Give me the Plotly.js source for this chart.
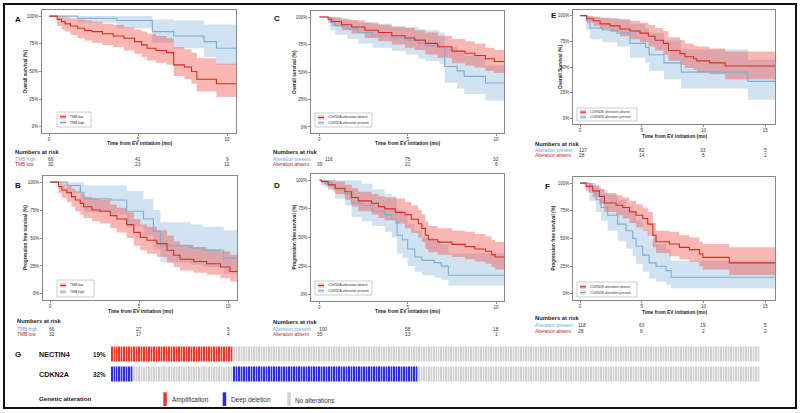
<!DOCTYPE html>
<html><head><meta charset="utf-8">
<script src="https://cdn.plot.ly/plotly-3.0.1.min.js"></script>
<style>html,body{margin:0;padding:0;background:#fff}#chart{width:800px;height:413px}</style>
</head><body><div id="chart"></div>
<script>
// ---------------- DATA ----------------
// Panel A: overall survival by TMB
const aLowTime  = [0,0.45,0.7,0.9,1.2,1.6,2.0,2.4,3.0,3.6,4.2,4.8,5.2,5.5,6.0,6.6,7.0,7.6,8.0,8.3,9.4,10.5];
const aLowSurv  = [1,0.97,0.95,0.93,0.91,0.89,0.87,0.86,0.84,0.82,0.80,0.77,0.74,0.71,0.69,0.67,0.56,0.54,0.50,0.43,0.39,0.39];
const aLowUpper = [1,1,1,0.99,0.98,0.97,0.96,0.95,0.93,0.92,0.90,0.88,0.86,0.84,0.82,0.80,0.72,0.70,0.67,0.62,0.57,0.57];
const aLowLower = [1,0.91,0.88,0.86,0.83,0.80,0.78,0.76,0.74,0.72,0.69,0.66,0.63,0.60,0.58,0.56,0.46,0.43,0.39,0.32,0.27,0.27];
const aHighTime  = [0,1.6,3.8,5.8,7.0,8.7,9.4,10.5];
const aHighSurv  = [1,0.98,0.96,0.86,0.82,0.77,0.71,0.71];
const aHighUpper = [1,1,1,0.97,0.96,0.925,0.925,0.925];
const aHighLower = [1,0.94,0.89,0.76,0.71,0.63,0.56,0.56];
const aRiskHigh = [66,41,9];
const aRiskLow  = [30,23,12];

// Panel B: progression free survival by TMB
const bLowTime  = [0,0.47,0.66,0.94,1.2,1.41,1.69,1.88,2.35,2.81,3.38,3.75,4.3,4.7,5.07,5.44,6.0,6.57,6.94,7.3,8.07,8.8,9.57,10.1,10.5];
const bLowSurv  = [1,0.96,0.93,0.906,0.87,0.84,0.81,0.78,0.75,0.74,0.70,0.67,0.62,0.55,0.506,0.48,0.45,0.39,0.345,0.31,0.29,0.27,0.24,0.20,0.20];
const bLowUpper = [1,1,0.99,0.97,0.94,0.92,0.90,0.87,0.85,0.84,0.80,0.77,0.73,0.67,0.62,0.60,0.57,0.52,0.47,0.44,0.42,0.40,0.38,0.35,0.35];
const bLowLower = [1,0.90,0.86,0.82,0.78,0.74,0.71,0.68,0.65,0.63,0.59,0.55,0.50,0.43,0.39,0.36,0.33,0.28,0.24,0.21,0.19,0.17,0.14,0.11,0.11];
const bHighTime  = [0,0.95,1.7,1.9,3.4,4.3,5.25,5.8,6.2,7.9,8.6,9.75,10.5];
const bHighSurv  = [1,0.97,0.91,0.85,0.84,0.74,0.67,0.56,0.43,0.41,0.39,0.32,0.32];
const bHighUpper = [1,1,1,0.97,0.97,0.92,0.85,0.75,0.64,0.62,0.60,0.57,0.57];
const bHighLower = [1,0.90,0.80,0.73,0.71,0.60,0.52,0.40,0.28,0.26,0.24,0.18,0.18];
const bRiskHigh = [66,27,5];
const bRiskLow  = [32,17,4];

// Panel C: overall survival by CDKN2A
const cAbsTime  = [0,0.5,0.7,1.26,1.83,2.58,3.34,4.1,4.85,5.4,6.0,6.7,7.5,8.25,8.8,9.4,9.9,10.45];
const cAbsSurv  = [1,0.98,0.96,0.93,0.91,0.88,0.86,0.83,0.81,0.79,0.76,0.73,0.69,0.67,0.65,0.62,0.595,0.595];
const cAbsUpper = [1,1,1,0.98,0.97,0.95,0.93,0.91,0.90,0.88,0.86,0.83,0.80,0.78,0.76,0.72,0.70,0.70];
const cAbsLower = [1,0.95,0.92,0.88,0.85,0.81,0.78,0.75,0.72,0.70,0.66,0.63,0.58,0.56,0.54,0.51,0.49,0.49];
const cPresTime  = [0,0.6,0.9,1.6,2.2,3.0,4.1,4.9,5.6,6.0,6.8,7.1,7.8,8.2,9.4,10.45];
const cPresSurv  = [1,0.95,0.92,0.89,0.86,0.83,0.81,0.79,0.76,0.74,0.72,0.55,0.51,0.46,0.40,0.40];
const cPresUpper = [1,1,0.99,0.97,0.95,0.94,0.92,0.91,0.89,0.88,0.86,0.73,0.69,0.65,0.56,0.56];
const cPresLower = [1,0.88,0.84,0.80,0.76,0.72,0.69,0.66,0.62,0.60,0.57,0.40,0.35,0.30,0.24,0.24];
const cRiskPres = [116,75,32];
const cRiskAbs  = [39,21,6];

// Panel D: progression free survival by CDKN2A
const dAbsTime  = [0,0.13,0.5,0.9,1.45,1.83,2.2,2.96,3.34,3.7,4.3,4.85,5.2,5.6,5.8,6.0,6.17,6.7,7.5,8.25,8.8,9.4,9.75,9.95,10.45];
const dAbsSurv  = [1,0.99,0.96,0.93,0.90,0.85,0.82,0.80,0.77,0.75,0.72,0.70,0.66,0.62,0.58,0.52,0.48,0.46,0.44,0.42,0.40,0.38,0.35,0.33,0.33];
const dAbsUpper = [1,1,1,0.99,0.96,0.93,0.90,0.88,0.86,0.85,0.84,0.81,0.78,0.74,0.70,0.64,0.60,0.58,0.56,0.55,0.53,0.51,0.48,0.46,0.46];
const dAbsLower = [1,0.96,0.92,0.88,0.83,0.77,0.73,0.70,0.67,0.65,0.62,0.58,0.54,0.50,0.46,0.40,0.37,0.35,0.33,0.31,0.29,0.27,0.24,0.22,0.22];
const dPresTime  = [0,0.3,0.75,0.9,1.45,1.83,2.4,3.0,3.7,4.1,4.4,4.7,5.0,5.4,5.8,6.5,6.9,7.3,10.45];
const dPresSurv  = [1,0.98,0.96,0.92,0.88,0.80,0.78,0.73,0.70,0.66,0.52,0.48,0.40,0.33,0.30,0.28,0.25,0.17,0.17];
const dPresUpper = [1,1,1,1,1,1,0.97,0.92,0.88,0.86,0.74,0.70,0.62,0.56,0.50,0.47,0.44,0.36,0.36];
const dPresLower = [1,0.94,0.90,0.84,0.78,0.68,0.64,0.60,0.55,0.50,0.36,0.32,0.25,0.20,0.17,0.15,0.13,0.08,0.08];
const dRiskPres = [100,58,18];
const dRiskAbs  = [35,13,1];

// Panel E: overall survival by CDKN2B
const eAbsTime  = [0,0.54,1.08,1.62,2.43,3.24,4.05,4.86,5.54,6.08,6.76,7.16,8.1,8.5,9.2,9.46,10.5,11.76,15.8];
const eAbsSurv  = [1,0.97,0.95,0.92,0.90,0.87,0.85,0.83,0.80,0.76,0.73,0.66,0.63,0.60,0.58,0.56,0.54,0.51,0.51];
const eAbsUpper = [1,1,0.99,0.98,0.97,0.96,0.95,0.93,0.91,0.88,0.85,0.79,0.76,0.73,0.71,0.70,0.68,0.65,0.65];
const eAbsLower = [1,0.93,0.90,0.87,0.84,0.80,0.77,0.74,0.70,0.66,0.62,0.56,0.52,0.49,0.47,0.45,0.43,0.38,0.38];
const ePresTime  = [0,0.5,0.8,1.8,3.0,4.05,5.3,5.6,6.8,8.2,13.6,15.8];
const ePresSurv  = [1,0.95,0.88,0.86,0.83,0.73,0.69,0.62,0.54,0.45,0.36,0.36];
const ePresUpper = [1,1,0.99,0.98,0.97,0.92,0.88,0.83,0.76,0.67,0.57,0.57];
const ePresLower = [1,0.86,0.77,0.74,0.70,0.59,0.54,0.46,0.38,0.29,0.18,0.18];
const eRiskPres = [127,82,33,5];
const eRiskAbs  = [28,14,5,1];

// Panel F: progression free survival by CDKN2B
const fAbsTime  = [0,0.49,1.03,1.57,1.97,2.92,3.46,4.0,4.54,5.08,5.49,5.9,6.16,7.24,8.05,8.86,9.68,9.95,12.1,15.8];
const fAbsSurv  = [1,0.97,0.93,0.88,0.82,0.80,0.78,0.74,0.71,0.68,0.63,0.53,0.47,0.45,0.42,0.40,0.36,0.33,0.28,0.28];
const fAbsUpper = [1,1,0.98,0.95,0.91,0.89,0.87,0.84,0.81,0.78,0.74,0.64,0.57,0.56,0.53,0.51,0.47,0.45,0.42,0.42];
const fAbsLower = [1,0.93,0.87,0.81,0.74,0.71,0.68,0.64,0.60,0.57,0.52,0.42,0.37,0.34,0.31,0.29,0.25,0.22,0.17,0.17];
const fPresTime  = [0,0.76,1.3,1.7,2.24,3.05,3.73,4.27,4.54,5.08,5.6,6.16,6.97,7.38,15.8];
const fPresSurv  = [1,0.92,0.85,0.78,0.71,0.63,0.57,0.50,0.43,0.35,0.28,0.25,0.21,0.15,0.15];
const fPresUpper = [1,1,0.97,0.94,0.90,0.85,0.79,0.74,0.66,0.58,0.50,0.45,0.40,0.30,0.30];
const fPresLower = [1,0.84,0.74,0.66,0.57,0.48,0.41,0.34,0.27,0.20,0.14,0.11,0.08,0.05,0.05];
const fRiskPres = [118,63,19,5];
const fRiskAbs  = [28,8,2,2];

// Panel G: oncoprint (sample groups, left to right)
const oncoGenes   = ['NECTIN4','CDKN2A'];
const groupCounts = [9,40,74,137];
const nectin4Status = ['Amplification','Amplification','No alterations','No alterations'];
const cdkn2aStatus  = ['Deep deletion','No alterations','Deep deletion','No alterations'];
const alterTypes  = ['No alterations','Amplification','Deep deletion'];

// ---------------- STYLE / LAYOUT ----------------
const W=800,H=413;
const fx=p=>p/W, fy=p=>1-p/H;
const FONT='Liberation Sans, Arial, sans-serif';
const RED='#D42E22', BLUE='#79AED3';
const REDF='rgba(242,72,62,0.40)', BLUEF='rgba(128,176,214,0.36)';
const RISK_BLUE='#6AA6D4', RISK_RED='#C0281E';
const COL_AMP='#E8372D', COL_DEL='#2B2BE0', COL_NONE='#D2D2D2';

const panels=[
 {letter:'A',lp:[13,19],dom:[42,236,10,133],xr:[-0.4,10.5],xt:[0,5,10],yTitle:'Overall survival (%)',yTx:25,xTy:143,
  red:[aLowTime,aLowSurv,aLowUpper,aLowLower],blue:[aHighTime,aHighSurv,aHighUpper,aHighLower],
  legLab:['TMB low','TMB high'],leg:[57,91,112,127],
  riskT:[13,152],labX:13,rowY:[159.3,164.3],rowLab:['TMB high','TMB low'],rows:[aRiskHigh,aRiskLow],sh0:[2,2]},
 {letter:'B',lp:[13,185],dom:[43,237,176,300],xr:[-0.4,10.5],xt:[0,5,10],yTitle:'Progression free survival (%)',yTx:25,xTy:311,
  red:[bLowTime,bLowSurv,bLowUpper,bLowLower],blue:[bHighTime,bHighSurv,bHighUpper,bHighLower],
  legLab:['TMB low','TMB high'],leg:[57,94,280,297],
  riskT:[15,321],labX:15,rowY:[329,334],rowLab:['TMB high','TMB low'],rows:[bRiskHigh,bRiskLow],sh0:[2,2]},
 {letter:'C',lp:[272,18],dom:[311,504,11,133],xr:[-0.47,10.45],xt:[0,5,10],yTitle:'Overall survival (%)',yTx:294,xTy:143,
  red:[cAbsTime,cAbsSurv,cAbsUpper,cAbsLower],blue:[cPresTime,cPresSurv,cPresUpper,cPresLower],
  legLab:['CDKN2A alteration absent','CDKN2A alteration present'],leg:[315,372,113,127],
  riskT:[271,152],labX:271,rowY:[159.3,164.3],rowLab:['Alteration present','Alteration absent'],rows:[cRiskPres,cRiskAbs],sh0:[10,1]},
 {letter:'D',lp:[272,185],dom:[311,504,174,301],xr:[-0.47,10.45],xt:[0,5,10],yTitle:'Progression free survival (%)',yTx:294,xTy:311,
  red:[dAbsTime,dAbsSurv,dAbsUpper,dAbsLower],blue:[dPresTime,dPresSurv,dPresUpper,dPresLower],
  legLab:['CDKN2A alteration absent','CDKN2A alteration present'],leg:[315,372,281,295],
  riskT:[271,322],labX:271,rowY:[329.5,334.5],rowLab:['Alteration present','Alteration absent'],rows:[dRiskPres,dRiskAbs],sh0:[4,1]},
 {letter:'E',lp:[549,16],dom:[573,775,10,124],xr:[-0.57,15.8],xt:[0,5,10,15],yTitle:'Overall Survival (%)',yTx:560,xTy:136.5,
  red:[eAbsTime,eAbsSurv,eAbsUpper,eAbsLower],blue:[ePresTime,ePresSurv,ePresUpper,ePresLower],
  legLab:['CDKN2B alteration absent','CDKN2B alteration present'],leg:[577,637,108,121],
  riskT:[533,144],labX:533,rowY:[150.7,155.2],rowLab:['Alteration present','Alteration absent'],rows:[eRiskPres,eRiskAbs],sh0:[3,2]},
 {letter:'F',lp:[543,186],dom:[573,775,177,300],xr:[-0.57,15.8],xt:[0,5,10,15],yTitle:'Progression free survival (%)',yTx:553,xTy:312,
  red:[fAbsTime,fAbsSurv,fAbsUpper,fAbsLower],blue:[fPresTime,fPresSurv,fPresUpper,fPresLower],
  legLab:['CDKN2B alteration absent','CDKN2B alteration present'],leg:[577,637,282,297],
  riskT:[533,318],labX:533,rowY:[325.7,331],rowLab:['Alteration present','Alteration absent'],rows:[fRiskPres,fRiskAbs],sh0:[2,1]}
];

const traces=[], annotations=[], shapes=[];
const layout={width:W,height:H,margin:{l:0,r:0,t:0,b:0},paper_bgcolor:'#fff',plot_bgcolor:'#fff',
  showlegend:false,font:{family:FONT,color:'#222'}};
const ann=(o)=>annotations.push(Object.assign({showarrow:false,xanchor:'center',yanchor:'middle',font:{family:FONT,size:5,color:'#222'}},o));

panels.forEach((p,i)=>{
  const n=i+1, xa='x'+(n>1?n:''), ya='y'+(n>1?n:'');
  const xk='xaxis'+(n>1?n:''), yk='yaxis'+(n>1?n:'');
  const d=p.dom;
  layout[xk]={domain:[fx(d[0]),fx(d[1])],range:p.xr,anchor:ya,tickmode:'array',tickvals:p.xt,
    ticks:'outside',ticklen:2,tickwidth:0.6,tickcolor:'#444',tickfont:{size:4.5,color:'#333',family:FONT},
    showline:true,mirror:true,linecolor:'#6a6a6a',linewidth:0.8,showgrid:false,zeroline:false,fixedrange:true};
  layout[yk]={domain:[fy(d[3]),fy(d[2])],range:[-0.055,1.055],anchor:xa,tickmode:'array',
    tickvals:[0,0.25,0.5,0.75,1],ticktext:['0%','25%','50%','75%','100%'],
    ticks:'outside',ticklen:2,tickwidth:0.6,tickcolor:'#444',tickfont:{size:4.5,color:'#333',family:FONT},
    showline:true,mirror:true,linecolor:'#6a6a6a',linewidth:0.8,showgrid:false,zeroline:false,fixedrange:true};
  const band=(g,fill)=>{
    traces.push({type:'scatter',mode:'lines',x:g[0],y:g[3],xaxis:xa,yaxis:ya,line:{width:0,shape:'hv'},hoverinfo:'skip'});
    traces.push({type:'scatter',mode:'lines',x:g[0],y:g[2],xaxis:xa,yaxis:ya,line:{width:0,shape:'hv'},fill:'tonexty',fillcolor:fill,hoverinfo:'skip'});
  };
  band(p.blue,BLUEF); band(p.red,REDF);
  traces.push({type:'scatter',mode:'lines',x:p.blue[0],y:p.blue[1],xaxis:xa,yaxis:ya,line:{width:1.1,shape:'hv',color:BLUE},hoverinfo:'skip'});
  traces.push({type:'scatter',mode:'lines',x:p.red[0],y:p.red[1],xaxis:xa,yaxis:ya,line:{width:1.1,shape:'hv',color:RED},hoverinfo:'skip'});

  // panel letter
  ann({xref:'paper',yref:'paper',x:fx(p.lp[0]),y:fy(p.lp[1]),xanchor:'left',text:'<b>'+p.letter+'</b>',font:{family:FONT,size:8,color:'#111'}});
  // axis titles
  ann({xref:xa+' domain',yref:'paper',x:0.5,y:fy(p.xTy),text:'<b>Time from EV initiation (mo)</b>',font:{family:FONT,size:4.9,color:'#222'}});
  ann({xref:'paper',yref:ya+' domain',x:fx(p.yTx),y:0.5,textangle:-90,text:'<b>'+p.yTitle+'</b>',font:{family:FONT,size:4.7,color:'#222'}});
  // legend box
  const L=p.leg, hgt=L[3]-L[2];
  shapes.push({type:'rect',xref:'paper',yref:'paper',x0:fx(L[0]),x1:fx(L[1]),y0:fy(L[3]),y1:fy(L[2]),line:{color:'#999',width:0.5},fillcolor:'#fff',layer:'above'});
  [[REDF,RED],[BLUEF,BLUE]].forEach((c,k)=>{
    const cy=L[2]+hgt*(k===0?0.32:0.7);
    shapes.push({type:'rect',xref:'paper',yref:'paper',x0:fx(L[0]+3),x1:fx(L[0]+9),y0:fy(cy+2),y1:fy(cy-2),line:{width:0},fillcolor:c[0],layer:'above'});
    shapes.push({type:'line',xref:'paper',yref:'paper',x0:fx(L[0]+3),x1:fx(L[0]+9),y0:fy(cy),y1:fy(cy),line:{color:c[1],width:1},layer:'above'});
    ann({xref:'paper',yref:'paper',x:fx(L[0]+11),y:fy(cy),xanchor:'left',text:p.legLab[k],font:{family:FONT,size:3.4,color:'#333'}});
  });
  // risk table
  ann({xref:'paper',yref:'paper',x:fx(p.riskT[0]),y:fy(p.riskT[1]),xanchor:'left',text:'<b>Numbers at risk</b>',font:{family:FONT,size:5.8,color:'#222'}});
  p.rows.forEach((row,k)=>{
    const col=k===0?RISK_BLUE:RISK_RED;
    ann({xref:'paper',yref:'paper',x:fx(p.labX),y:fy(p.rowY[k]),xanchor:'left',text:p.rowLab[k],font:{family:FONT,size:4.8,color:col}});
    row.forEach((v,j)=>{
      ann({xref:xa,yref:'paper',x:p.xt[j],xshift:j===0?p.sh0[k]:0,y:fy(p.rowY[k]),text:String(v),font:{family:FONT,size:4.8,color:'#333'}});
    });
  });
});

// ---------------- ONCOPRINT ----------------
const nSamples=groupCounts.reduce((a,b)=>a+b,0);
const code=s=>alterTypes.indexOf(s);
const rowN=[],rowC=[],xs=[];
groupCounts.forEach((c,g)=>{for(let k=0;k<c;k++){rowN.push(code(nectin4Status[g]));rowC.push(code(cdkn2aStatus[g]));}});
for(let k=1;k<=nSamples;k++) xs.push(k);
traces.push({type:'heatmap',x:xs,y:[0,1],z:[rowN,rowC],xaxis:'x7',yaxis:'y7',zmin:0,zmax:2,showscale:false,
  xgap:0.6,ygap:5,hoverinfo:'skip',
  colorscale:[[0,COL_NONE],[0.333,COL_NONE],[0.334,COL_AMP],[0.666,COL_AMP],[0.667,COL_DEL],[1,COL_DEL]]});
layout.xaxis7={domain:[fx(111),fx(760)],range:[0.5,nSamples+0.5],anchor:'y7',visible:false,fixedrange:true};
layout.yaxis7={domain:[fy(384.5),fy(344.5)],range:[1.5,-0.5],anchor:'x7',visible:false,fixedrange:true};

const pct=arr=>Math.round(100*arr.filter(v=>v>0).length/nSamples)+'%';
const geneY=[354,374.5];
ann({xref:'paper',yref:'paper',x:fx(13),y:fy(354),xanchor:'left',text:'<b>G</b>',font:{family:FONT,size:8,color:'#111'}});
[rowN,rowC].forEach((r,k)=>{
  ann({xref:'paper',yref:'paper',x:fx(37),y:fy(geneY[k]),xanchor:'left',text:'<b>'+oncoGenes[k]+'</b>',font:{family:FONT,size:7.2,color:'#111'}});
  ann({xref:'paper',yref:'paper',x:fx(91),y:fy(geneY[k]),xanchor:'left',text:'<b>'+pct(r)+'</b>',font:{family:FONT,size:6.3,color:'#222'}});
});
ann({xref:'paper',yref:'paper',x:fx(37),y:fy(398.5),xanchor:'left',text:'<b>Genetic alteration</b>',font:{family:FONT,size:6.2,color:'#222'}});
const legItems=[['Amplification',COL_AMP,163.3,170],['Deep deletion',COL_DEL,222.7,229.3],['No alterations',COL_NONE,287.3,292.7]];
legItems.forEach(li=>{
  shapes.push({type:'rect',xref:'paper',yref:'paper',x0:fx(li[2]),x1:fx(li[2]+3.5),y0:fy(406),y1:fy(392.3),line:{width:0},fillcolor:li[1]});
  ann({xref:'paper',yref:'paper',x:fx(li[3]),y:fy(400),xanchor:'left',text:li[0],font:{family:FONT,size:6.4,color:'#333'}});
});

// outer frame
shapes.push({type:'rect',xref:'paper',yref:'paper',x0:fx(4),x1:fx(796),y0:fy(408),y1:fy(4),line:{color:'#111',width:2},fillcolor:'rgba(0,0,0,0)',layer:'above'});

layout.annotations=annotations; layout.shapes=shapes;
Plotly.newPlot('chart',traces,layout,{displayModeBar:false,staticPlot:true});
</script></body></html>
